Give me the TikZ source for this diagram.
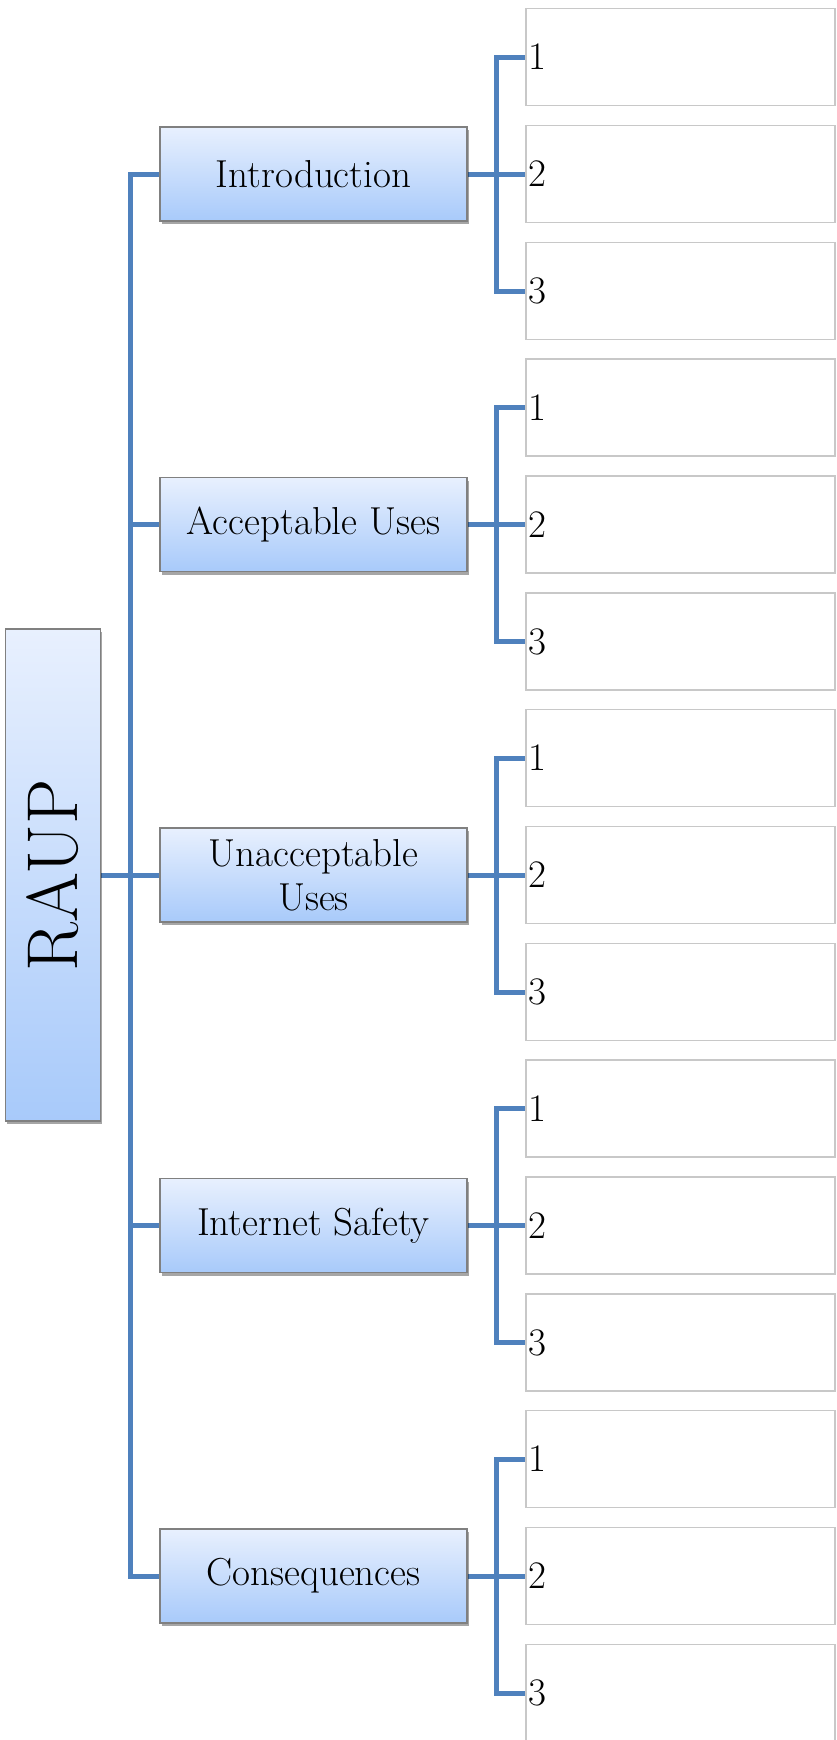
\documentclass[tikz,border=0pt]{standalone}
\usetikzlibrary{shadows,calc,backgrounds}
\definecolor{conncol}{RGB}{79,129,189}
\definecolor{gtop}{RGB}{232,240,254}
\definecolor{gbot}{RGB}{168,202,250}
\definecolor{cborder}{RGB}{128,128,128}
\definecolor{lborder}{RGB}{200,200,200}
\begin{document}
\begin{tikzpicture}[x=1pt,y=-1pt,
  catbox/.style={draw=cborder, line width=1.2pt, top color=gtop, bottom color=gbot,
    minimum width=307pt, minimum height=94pt, inner sep=0pt, align=center,
    font=\fontsize{39}{44}\selectfont,
    drop shadow={shadow xshift=1.5pt, shadow yshift=-3pt, opacity=0.35, fill=black}},
  rootbox/.style={catbox, minimum width=94.5pt, minimum height=492pt,
    font=\fontsize{72}{80}\selectfont},
  leafbox/.style={draw=lborder, line width=1.2pt, fill=white, minimum height=97pt,
    text width=305pt, inner xsep=2pt, inner ysep=0pt, align=left,
    font=\fontsize{39}{44}\selectfont},
  conn/.style={draw=conncol, line width=5pt}]
\useasboundingbox (0,0) rectangle (836,1740);
\node[rootbox] (root) at (53,875) {\rotatebox{90}{RAUP}};
\foreach \i/\t in {1/Introduction, 2/Acceptable Uses, 3/{Unacceptable\\Uses}, 4/Internet Safety, 5/Consequences}{
  \pgfmathsetmacro\cy{174+(\i-1)*350.5}
  \node[catbox] (c\i) at (313.5,\cy) {\t};
  \node[leafbox] (l\i a) at (680.5,\cy-117) {1};
  \node[leafbox] (l\i b) at (680.5,\cy) {2};
  \node[leafbox] (l\i c) at (680.5,\cy+117) {3};
  \coordinate (r\i) at ($(c\i.east)!0.5!(l\i b.west)$);
  \begin{scope}[on background layer]
    \draw[conn] (c\i.east) -- (l\i b.west);
    \draw[conn] (l\i a.west) -| (r\i) |- (l\i c.west);
  \end{scope}
}
\coordinate (t) at ($(root.east)!0.5!(c3.west)$);
\begin{scope}[on background layer]
  \draw[conn] (c1.west) -| (t) |- (c5.west);
  \draw[conn] (root.east) -- (c3.west);
  \draw[conn] (c2.west) -- (c2.west -| t);
  \draw[conn] (c4.west) -- (c4.west -| t);
\end{scope}
\end{tikzpicture}
\end{document}
